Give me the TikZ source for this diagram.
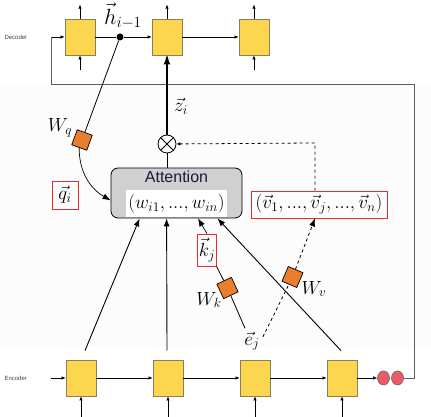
\RequirePackage{fix-cm}
\documentclass[tikz,border=0pt]{standalone}
\usepackage{fontspec}
\usepackage{amsmath}
\usepackage{tikz}
\usetikzlibrary{arrows.meta,positioning,calc,shapes.geometric}
\newfontfamily\arialfont{Liberation Sans}
\definecolor{cellyellow}{HTML}{FDD64F}
\definecolor{cellborder}{HTML}{8A8060}
\definecolor{weightorange}{HTML}{E97E2C}
\definecolor{dotred}{HTML}{EC5A66}
\definecolor{attgray}{HTML}{D0D0D0}
\definecolor{boxred}{HTML}{F02828}
\definecolor{loopgray}{HTML}{5E5E5E}
\definecolor{titlenavy}{HTML}{1A1A3A}

\tikzset{
  cell/.style={draw=cellborder, fill=cellyellow, minimum width=30pt, minimum height=36pt, inner sep=0pt, line width=0.8pt},
  wmat/.style={draw=black, fill=weightorange, minimum size=16pt, inner sep=0pt, line width=0.7pt},
  redbox/.style={draw=boxred, line width=0.8pt, inner sep=1pt},
  mathlbl/.style={font=\fontsize{19}{22}\selectfont, inner sep=1pt},
  sidelbl/.style={font=\arialfont\fontsize{6}{7}\selectfont, text=black!75, anchor=west},
  eosdot/.style={ellipse, draw=black!60, fill=dotred, minimum width=12pt, minimum height=14pt, inner sep=0pt, line width=0.6pt},
  smallarrow/.style={-{Latex[length=4pt,width=3.5pt]}, line width=0.6pt},
  arr/.style={-{Latex[length=8pt,width=6pt]}, line width=0.9pt},
  otimes/.style={circle, draw, fill=white, minimum size=18pt, inner sep=0pt, line width=0.8pt,
    path picture={\draw (path picture bounding box.north west) -- (path picture bounding box.south east)
      (path picture bounding box.north east) -- (path picture bounding box.south west);}},
}

\begin{document}
\begin{tikzpicture}[x=1pt,y=1pt]
    \useasboundingbox (0,0) rectangle (431,417);
    % faint background band
    \fill[black!1] (0,70) rectangle (431,333);

    % Side labels
    \node[sidelbl] (declbl) at (1,380) {Decoder};
    \node[sidelbl] (enclbl) at (1,39) {Encoder};

    % Decoder cells
    \foreach \i/\x in {1/80,2/167,3/254} {
        \node[cell] (dec\i) at (\x,380) {};
        \draw[smallarrow] (dec\i.north) -- ++(0,14);
        \draw[smallarrow] ($(dec\i.south)+(0,-15)$) -- (dec\i.south);
    }

    % Encoder cells
    \foreach \i/\x in {1/81,2/168,3/255,4/342} {
        \node[cell] (enc\i) at (\x,39) {};
        \draw[smallarrow] (\x,0) -- (enc\i.south);
    }

    % Decoder chain
    \coordinate (decin) at (51,380);
    \node[circle, fill=black, inner sep=0pt, minimum size=7pt] (hdot) at (120,380) {};
    \draw[smallarrow] (decin) -- (dec1);
    \draw[line width=0.6pt] (dec1) -- (hdot);
    \draw[smallarrow] (hdot) -- (dec2);
    \draw[smallarrow] (dec2) -- (dec3);
    \node[font=\fontsize{22}{25}\selectfont, inner sep=0pt] (hlbl) at (123,401) {$\vec{h}_{i-1}$};

    % Encoder chain
    \coordinate (encin) at (51,39);
    \draw[smallarrow] (encin) -- (enc1);
    \foreach \a/\b in {1/2,2/3,3/4} {
        \draw[smallarrow] (enc\a) -- (enc\b);
    }
    \node[eosdot] (eos1) at (383.5,39) {};
    \node[eosdot] (eos2) at (397.5,39) {};
    \draw[smallarrow] (enc4) -- (eos1);

    % Feedback loop
    \draw[loopgray, line width=0.9pt] (eos2.east) -- (414,39) |- (51,333) -- (decin);

    % Attention block
    \node[draw, fill=attgray, rounded corners=7pt, minimum width=131pt, minimum height=50pt, line width=0.8pt] (att) at (176.5,224) {};
    \node[font=\arialfont\fontsize{16}{18}\selectfont, text=titlenavy, inner sep=0pt] (atttitle) at (176.5,240) {Attention};
    \node[mathlbl, fill=white, minimum width=101pt, minimum height=27pt] (wts) at (176.5,213.5) {$(w_{i1}, ..., w_{in})$};

    % Product and context
    \node[otimes] (mult) at (167,273) {};
    \draw[line width=0.8pt] (mult |- att.north) -- (mult);
    \draw[-{Latex[length=9pt,width=7pt]}, line width=1.6pt] (mult) -- (dec2);
    \node[mathlbl] (zlbl) at (181,311) {$\vec{z}_i$};

    % Values
    \node[redbox, mathlbl, minimum width=136pt, minimum height=27pt] (vals) at (319,212.5) {$(\vec{v}_1, ..., \vec{v}_j, ..., \vec{v}_n)$};
    \coordinate (vturn) at (315,274);
    \draw[smallarrow, dashed, line width=0.8pt] (vals.north -| vturn) -- (vturn) -- (mult);

    % Query
    \node[redbox, mathlbl, minimum width=26pt, minimum height=28pt] (qlbl) at (65,222) {$\vec{q}_i$};
    \node[wmat, rotate=-20] (wq) at (82,277) {};
    \node[mathlbl] (wqlbl) at (60,289) {$W_q$};
    \draw[line width=0.8pt] (hdot) -- (wq);
    \draw[arr, line width=0.7pt] (wq.south) to[out=-90, in=150] ($(att.south west)+(0,18)$);

    % Encoder states into attention
    \draw[arr] ($(enc1.north)+(4,9)$) -- ($(att.south west)+(29,0)$);
    \draw[arr] ($(enc2.north)+(-1,9)$) -- ($(att.south west)+(56,0)$);
    \draw[arr] ($(enc4.north)+(-1,9)$) -- ($(att.south east)+(-25,0)$);

    % Key and value projections
    \node[mathlbl] (ej) at (252,76) {$\vec{e}_j$};
    \node[wmat, rotate=25] (wk) at (227.5,129) {};
    \node[mathlbl] (wklbl) at (209,117) {$W_k$};
    \node[redbox, mathlbl, minimum width=18pt, minimum height=32pt] (klbl) at (207,167) {$\vec{k}_j$};
    \draw[line width=0.8pt] ($(ej.north)+(-7,2)$) -- (wk) -- (klbl.south east);
    \draw[arr, line width=0.7pt] (klbl.north) -- ($(att.south)+(21.5,0)$);

    \node[wmat, rotate=-23] (wv) at (292.5,140) {};
    \node[mathlbl] (wvlbl) at (314,128) {$W_v$};
    \draw[dashed, line width=0.8pt] ($(ej.east)+(2,4)$) -- (wv);
    \draw[arr, dashed, line width=0.8pt] (wv) -- (vals.south -| vturn);

\end{tikzpicture}
\end{document}
